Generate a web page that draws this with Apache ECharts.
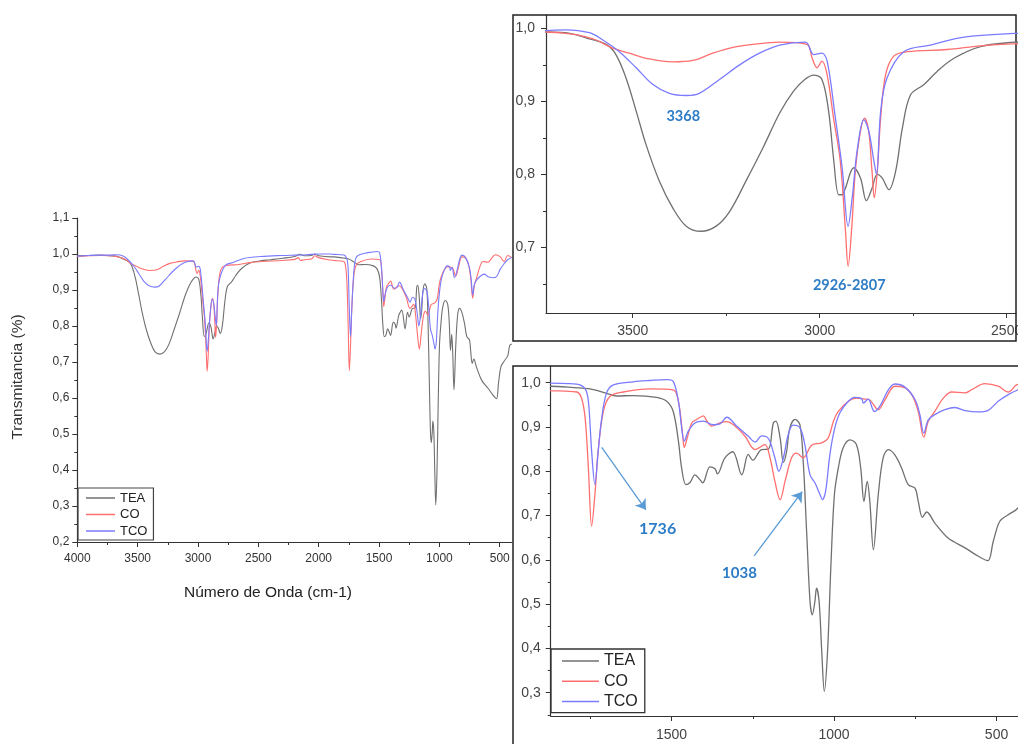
<!DOCTYPE html>
<html>
<head>
<meta charset="utf-8">
<script src="https://cdn.jsdelivr.net/npm/echarts@6/dist/echarts.min.js"></script>
<style>
  html, body { margin: 0; padding: 0; background: #fff; }
  #chart { width: 1018px; height: 744px; }
</style>
</head>
<body>
<div id="chart"></div>
<script>
// FTIR spectra: [wavenumber (cm-1), transmittance]
const teaSpectrum = [
  [4000,0.995],[3900,0.996],[3800,0.997],[3732,0.995],[3680,0.994],[3625,0.987],[3571,0.978],[3545,0.964],
  [3518,0.932],[3491,0.887],[3464,0.840],[3429,0.791],[3393,0.754],[3357,0.729],[3317,0.722],[3277,0.729],
  [3241,0.749],[3197,0.791],[3152,0.836],[3107,0.884],[3070,0.914],[3040,0.930],[3016,0.936],[2994,0.930],
  [2976,0.886],[2963,0.822],[2949,0.772],[2940,0.772],[2932,0.780],[2909,0.809],[2891,0.795],[2875,0.764],
  [2860,0.781],[2846,0.800],[2833,0.795],[2815,0.779],[2797,0.804],[2779,0.863],[2757,0.909],[2721,0.923],
  [2686,0.941],[2641,0.959],[2570,0.975],[2480,0.981],[2400,0.984],[2300,0.988],[2200,0.993],[2157,0.999],
  [2120,0.995],[2060,0.996],[2032,1.000],[2000,0.995],[1900,0.992],[1874,0.992],[1800,0.989],[1751,0.986],
  [1700,0.976],[1669,0.970],[1618,0.971],[1546,0.967],[1515,0.958],[1495,0.935],[1479,0.868],[1469,0.807],
  [1456,0.770],[1444,0.774],[1428,0.792],[1413,0.781],[1404,0.774],[1382,0.810],[1366,0.805],[1359,0.794],
  [1336,0.830],[1312,0.844],[1284,0.792],[1264,0.838],[1250,0.825],[1223,0.849],[1202,0.850],[1187,0.909],
  [1179,0.913],[1166,0.875],[1156,0.820],[1146,0.845],[1136,0.898],[1120,0.917],[1105,0.905],[1095,0.823],
  [1084,0.657],[1074,0.506],[1067,0.476],[1059,0.506],[1054,0.536],[1046,0.506],[1038,0.394],[1030,0.303],
  [1020,0.394],[1010,0.582],[999,0.747],[987,0.807],[972,0.853],[951,0.871],[931,0.860],[918,0.807],
  [908,0.732],[898,0.777],[890,0.732],[879,0.623],[864,0.747],[849,0.830],[833,0.849],[813,0.837],
  [792,0.807],[772,0.770],[751,0.762],[741,0.732],[728,0.696],[715,0.708],[690,0.683],[649,0.649],
  [597,0.627],[556,0.608],[527,0.598],[510,0.642],[490,0.687],[464,0.702],[434,0.717],[417,0.746],[400,0.750]
];
const coSpectrum = [
  [4000,0.993],[3900,0.995],[3800,0.996],[3732,0.995],[3680,0.993],[3640,0.990],[3598,0.984],[3554,0.973],
  [3509,0.966],[3464,0.959],[3393,0.954],[3339,0.956],[3286,0.966],[3232,0.974],[3179,0.978],[3107,0.981],
  [3034,0.978],[3020,0.959],[3007,0.946],[2994,0.955],[2980,0.936],[2963,0.877],[2945,0.818],[2931,0.722],
  [2924,0.674],[2915,0.722],[2904,0.809],[2891,0.859],[2880,0.877],[2869,0.859],[2860,0.804],[2854,0.768],
  [2846,0.804],[2837,0.877],[2824,0.936],[2802,0.962],[2766,0.968],[2659,0.971],[2570,0.976],[2471,0.979],
  [2300,0.982],[2200,0.985],[2170,0.990],[2150,0.982],[2120,0.984],[2060,0.986],[2032,0.995],[2000,0.990],
  [1920,0.984],[1874,0.982],[1792,0.979],[1777,0.965],[1766,0.920],[1756,0.807],[1746,0.676],[1736,0.747],
  [1726,0.845],[1710,0.935],[1690,0.969],[1649,0.979],[1566,0.986],[1495,0.984],[1479,0.958],[1466,0.883],
  [1461,0.854],[1452,0.875],[1438,0.909],[1423,0.917],[1402,0.925],[1392,0.914],[1377,0.902],[1351,0.909],
  [1330,0.912],[1305,0.902],[1274,0.879],[1243,0.849],[1213,0.860],[1197,0.830],[1182,0.777],[1166,0.736],
  [1151,0.777],[1131,0.830],[1115,0.841],[1095,0.830],[1069,0.859],[1038,0.864],[1018,0.875],[1002,0.913],
  [987,0.935],[956,0.958],[931,0.965],[905,0.963],[890,0.961],[864,0.939],[843,0.962],[813,0.992],
  [787,0.990],[761,0.973],[741,0.935],[724,0.877],[710,0.913],[690,0.935],[664,0.965],[638,0.979],
  [597,0.977],[577,0.984],[536,0.998],[495,0.992],[464,0.979],[434,0.996],[400,0.990]
];
const tcoSpectrum = [
  [4000,0.994],[3900,0.996],[3800,0.997],[3732,0.997],[3680,0.998],[3616,0.994],[3580,0.984],[3536,0.968],
  [3491,0.946],[3446,0.923],[3402,0.911],[3357,0.908],[3322,0.911],[3268,0.930],[3214,0.950],[3161,0.966],
  [3107,0.977],[3038,0.981],[3016,0.964],[2994,0.966],[2980,0.955],[2958,0.877],[2940,0.809],[2924,0.729],
  [2913,0.768],[2900,0.832],[2882,0.875],[2869,0.860],[2855,0.818],[2848,0.800],[2837,0.886],[2820,0.932],
  [2775,0.968],[2704,0.977],[2614,0.988],[2480,0.993],[2300,0.996],[2200,0.997],[2100,0.998],[2000,1.000],
  [1900,1.000],[1874,0.999],[1792,0.997],[1766,0.986],[1756,0.958],[1746,0.845],[1736,0.770],[1726,0.845],
  [1715,0.920],[1700,0.977],[1679,0.995],[1618,1.002],[1566,1.005],[1515,1.007],[1495,1.003],[1479,0.958],
  [1469,0.898],[1461,0.868],[1449,0.890],[1428,0.909],[1402,0.913],[1372,0.905],[1351,0.907],[1330,0.922],
  [1300,0.902],[1264,0.879],[1243,0.866],[1223,0.880],[1202,0.874],[1182,0.830],[1170,0.800],[1156,0.830],
  [1141,0.883],[1126,0.904],[1105,0.898],[1090,0.860],[1074,0.792],[1059,0.774],[1043,0.747],[1036,0.736],
  [1026,0.755],[1013,0.837],[999,0.894],[982,0.932],[956,0.958],[936,0.967],[915,0.964],[910,0.954],
  [895,0.963],[876,0.935],[859,0.947],[833,0.984],[813,0.997],[782,0.990],[751,0.962],[736,0.928],
  [724,0.886],[710,0.916],[690,0.928],[659,0.939],[628,0.944],[597,0.937],[556,0.934],[527,0.937],
  [495,0.958],[464,0.973],[434,0.984],[400,0.990]
];
const seriesNames = ['TEA', 'CO', 'TCO'];

// Tick labels of the three panels
const mainXTicks = [4000, 3500, 3000, 2500, 2000, 1500, 1000, 500];
const mainYTicks = [0.2, 0.3, 0.4, 0.5, 0.6, 0.7, 0.8, 0.9, 1.0, 1.1];
const upperXTicks = [3500, 3000, 2500];
const upperYTicks = [0.7, 0.8, 0.9, 1.0];
const lowerXTicks = [1500, 1000, 500];
const lowerYTicks = [0.3, 0.4, 0.5, 0.6, 0.7, 0.8, 0.9, 1.0];

// Band labels (wavenumber, transmittance) and arrows in the lower panel
const upperBandLabels = [
  { text: '3368', at: [3365, 0.879] },
  { text: '2926-2807', at: [2921, 0.648] }
];
const lowerBandLabels = [
  { text: '1736', at: [1543, 0.671] },
  { text: '1038', at: [1291, 0.569] }
];
const lowerArrows = [
  [[1715, 0.854], [1579, 0.713]],
  [[1246, 0.609], [1098, 0.754]]
];

const spectra = [teaSpectrum, coSpectrum, tcoSpectrum];
const lineColors = ['#707070', '#ff6f6f', '#7b7bff'];
const FONT = '"Liberation Sans", Arial, sans-serif';
const ANNOT_COLOR = '#2c7cc6';

const r6 = v => Math.round(v * 1e6) / 1e6;
function minorTicks(ticks, lo, hi) {
  const step = Math.abs(ticks[1] - ticks[0]);
  const out = [];
  ticks.forEach(t => {
    [t - step / 2, t + step / 2].forEach(m => {
      m = r6(m);
      if (m >= lo && m <= hi && out.indexOf(m) < 0) out.push(m);
    });
  });
  return out;
}
const commaFmt = v => Number(v).toFixed(1).replace('.', ',');

function axisPair(dim, gridIndex, range, ticks, opt) {
  const base = {
    type: 'value', gridIndex: gridIndex, min: range[0], max: range[1],
    inverse: !!opt.inverse, position: dim === 'x' ? 'bottom' : 'left',
    splitLine: { show: false }, scale: true
  };
  const major = Object.assign({}, base, {
    axisLine: { show: true, lineStyle: { color: '#333', width: 1.2 } },
    axisTick: { show: true, customValues: ticks, length: 5, lineStyle: { color: '#333', width: 1 } },
    axisLabel: {
      show: true, customValues: ticks, margin: opt.margin, fontSize: opt.fontSize,
      fontFamily: FONT, color: opt.labelColor || '#333',
      formatter: dim === 'y' ? commaFmt : (v => String(v))
    }
  });
  const minor = Object.assign({}, base, {
    axisLine: { show: false },
    axisTick: { show: true, customValues: minorTicks(ticks, range[0], range[1]), length: 3,
      lineStyle: { color: '#333', width: 1 } },
    axisLabel: { show: false }
  });
  return [major, minor];
}

const grids = [
  { left: 77.3, top: 218, width: 434.5, height: 324, outerBoundsMode: 'none' },
  { left: 546, top: 15.2, width: 470, height: 297.8, outerBoundsMode: 'none' },
  { left: 550.7, top: 366, width: 467.3, height: 350, outerBoundsMode: 'none' }
];

const xAxes = [].concat(
  axisPair('x', 0, [400, 4000], mainXTicks, { inverse: true, margin: 11, fontSize: 12 }),
  axisPair('x', 1, [2475, 3732], upperXTicks, { inverse: true, margin: 11, fontSize: 14, labelColor: '#444' }),
  axisPair('x', 2, [434, 1872], lowerXTicks, { inverse: true, margin: 12, fontSize: 14, labelColor: '#444' })
);
const yAxes = [].concat(
  axisPair('y', 0, [0.2, 1.1], mainYTicks, { margin: 8, fontSize: 12 }),
  axisPair('y', 1, [0.61, 1.018], upperYTicks, { margin: 11, fontSize: 14, labelColor: '#444' }),
  axisPair('y', 2, [0.2473, 1.0377], lowerYTicks, { margin: 10, fontSize: 14, labelColor: '#444' })
);

function labelPoints(list) {
  return {
    symbol: 'rect', symbolSize: 1, silent: true,
    itemStyle: { color: 'rgba(0,0,0,0)' },
    label: {
      show: true, position: 'inside', color: ANNOT_COLOR, fontFamily: 'Lato, "Open Sans", sans-serif',
      fontWeight: 'bold', fontSize: 15, formatter: p => p.name
    },
    data: list.map(d => ({ name: d.text, coord: d.at, label: { fontSize: d.size || 15 } }))
  };
}

const series = [];
[0, 1, 2].forEach(g => {
  spectra.forEach((data, i) => {
    const s = {
      type: 'line', name: seriesNames[i], data: data,
      xAxisIndex: 2 * g, yAxisIndex: 2 * g,
      showSymbol: false, smooth: 0.35, clip: true,
      color: lineColors[i],
      lineStyle: { color: lineColors[i], width: g === 0 ? 1.1 : 1.3 },
      z: 3 + i
    };
    if (g === 1 && i === 2) {
      s.markPoint = labelPoints(upperBandLabels.map(d => Object.assign({ size: 14.5 }, d)));
    }
    if (g === 2 && i === 2) {
      s.markPoint = labelPoints(lowerBandLabels.map((d, k) => Object.assign({ size: k === 0 ? 16 : 15 }, d)));
      s.markLine = {
        silent: true, symbol: ['none', 'arrow'], symbolSize: 10, precision: 4,
        lineStyle: { color: '#5b9bd5', width: 1.3, type: 'solid' },
        itemStyle: { color: '#5b9bd5' },
        label: { show: false },
        data: lowerArrows.map(a => [{ coord: a[0] }, { coord: a[1] }])
      };
    }
    series.push(s);
  });
});

const option = {
  animation: false,
  backgroundColor: '#fff',
  textStyle: { fontFamily: FONT },
  grid: grids,
  xAxis: xAxes,
  yAxis: yAxes,
  legend: [
    {
      data: seriesNames, orient: 'vertical', left: 78, top: 488,
      icon: 'rect', itemWidth: 29, itemHeight: 1.5, itemGap: 2.5,
      padding: [3, 6, 2, 8], borderColor: '#444', borderWidth: 1.2,
      textStyle: { fontFamily: FONT, fontSize: 13, lineHeight: 14, color: '#222' },
      selectedMode: false
    },
    {
      data: seriesNames, orient: 'vertical', left: 551, top: 649,
      icon: 'rect', itemWidth: 37, itemHeight: 1.5, itemGap: 2.3,
      padding: [3, 7, 2, 11], borderColor: '#333', borderWidth: 1.3,
      textStyle: { fontFamily: FONT, fontSize: 16, lineHeight: 18, color: '#222' },
      selectedMode: false
    }
  ],
  graphic: [
    { type: 'rect', z: 1, silent: true, shape: { x: 513, y: 15, width: 503, height: 326 },
      style: { fill: 'none', stroke: '#222', lineWidth: 1.5 } },
    { type: 'rect', z: 1, silent: true, shape: { x: 513, y: 366, width: 520, height: 400 },
      style: { fill: 'none', stroke: '#222', lineWidth: 1.5 } },
    { type: 'text', x: 18, y: 377, rotation: Math.PI / 2, silent: true,
      style: { text: 'Transmitancia (%)', fontFamily: FONT, fontSize: 15.5, fill: '#333',
        align: 'center', verticalAlign: 'middle' } },
    { type: 'text', x: 268, y: 593, silent: true,
      style: { text: 'Número de Onda (cm-1)', fontFamily: FONT, fontSize: 15.5, fill: '#222',
        align: 'center', verticalAlign: 'middle' } }
  ],
  series: series
};

const chart = echarts.init(document.getElementById('chart'), null, { renderer: 'canvas' });
chart.setOption(option);
</script>
</body>
</html>
